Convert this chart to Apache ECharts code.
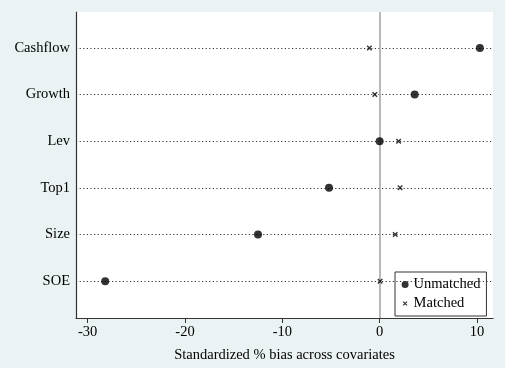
<!DOCTYPE html>
<html>
<head>
<meta charset="utf-8">
<script src="https://cdn.jsdelivr.net/npm/echarts@6/dist/echarts.min.js"></script>
<style>
html,body{margin:0;padding:0;background:#eaf2f3;}
#chart{width:505px;height:368px;}
</style>
</head>
<body>
<div id="chart"></div>
<script>
// Covariates, listed bottom to top (y position 1..6)
const covariates = ['SOE', 'Size', 'Top1', 'Lev', 'Growth', 'Cashflow'];
const unmatched = [-28.2, -12.5, -5.2, 0.0, 3.6, 10.3];
const matched = [0.05, 1.6, 2.1, 1.95, -0.5, -1.05];
const xTicks = [-30, -20, -10, 0, 10];
const xTitle = 'Standardized % bias across covariates';

const rowPos = covariates.map((c, i) => i + 1);
const font = 'Liberation Serif, Times New Roman, serif';
const crossPath = 'path://M0,0L10,10M10,0L0,10';
const legendCross = 'path://M-4,-4L-4,-4M14,14L14,14M0,0L10,10M10,0L0,10';

const chart = echarts.init(document.getElementById('chart'));
chart.setOption({
  animation: false,
  backgroundColor: '#eaf2f3',
  textStyle: { fontFamily: font },
  grid: {
    left: 76, right: 12, top: 12, bottom: 49,
    show: true, backgroundColor: '#ffffff', borderWidth: 0
  },
  xAxis: {
    type: 'value',
    min: -31.2, max: 11.65,
    name: xTitle,
    nameLocation: 'middle',
    nameGap: 30,
    nameTextStyle: { fontFamily: font, fontSize: 14.5, color: '#000' },
    axisLine: { show: true, onZero: false, lineStyle: { color: '#333', width: 1.2 } },
    axisTick: { show: true, length: 5, customValues: xTicks, lineStyle: { color: '#333' } },
    axisLabel: { customValues: xTicks, fontFamily: font, fontSize: 14.5, color: '#000', margin: 7,
      formatter: v => String(v) },
    splitLine: { show: false }
  },
  yAxis: {
    type: 'value',
    min: 0.21, max: 6.77,
    axisLine: { show: true, onZero: false, lineStyle: { color: '#333', width: 1.2 } },
    axisTick: { show: false },
    axisLabel: {
      customValues: rowPos,
      fontFamily: font, fontSize: 14.5, color: '#000', margin: 6,
      formatter: v => covariates[Math.round(v) - 1] || ''
    },
    splitLine: { show: false }
  },
  legend: {
    orient: 'vertical',
    left: 395, top: 272,
    padding: [5, 6],
    itemGap: 4,
    itemWidth: 7, itemHeight: 14,
    backgroundColor: '#ffffff',
    borderColor: '#333', borderWidth: 1,
    borderRadius: 0,
    textStyle: { fontFamily: font, fontSize: 14.5, color: '#000' },
    data: [
      { name: 'Unmatched', icon: 'circle' },
      { name: 'Matched', icon: legendCross, itemStyle: { borderWidth: 1.2, borderColor: '#000', color: '#000' } }
    ]
  },
  series: [
    {
      name: 'Unmatched',
      type: 'scatter',
      symbol: 'circle',
      symbolSize: 8,
      itemStyle: { color: '#000' },
      data: unmatched.map((v, i) => [v, rowPos[i]]),
      z: 5,
      markLine: {
        silent: true,
        symbol: 'none',
        label: { show: false },
        lineStyle: { type: [1.2, 2.4], color: '#333', width: 1 },
        data: rowPos.map(p => ({ yAxis: p }))
      }
    },
    {
      name: 'Matched',
      type: 'scatter',
      symbol: crossPath,
      symbolSize: 4.5,
      itemStyle: { color: '#000', borderColor: '#000', borderWidth: 1.4 },
      data: matched.map((v, i) => [v, rowPos[i]]),
      z: 6,
      markLine: {
        silent: true,
        symbol: 'none',
        label: { show: false },
        lineStyle: { type: 'solid', color: '#a0a0a0', width: 1.5 },
        data: [{ xAxis: 0 }]
      }
    }
  ]
});
</script>
</body>
</html>
